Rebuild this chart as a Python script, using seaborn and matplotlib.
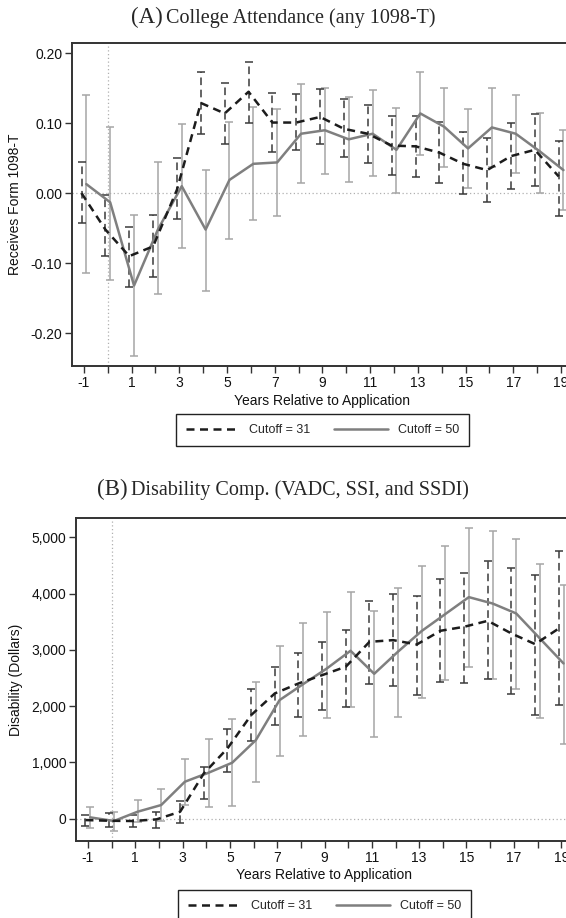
import numpy as np
import pandas as pd
import matplotlib
matplotlib.use("Agg")
import matplotlib.pyplot as plt
import seaborn as sns
from matplotlib.lines import Line2D
from matplotlib.ticker import FuncFormatter

# ---------------- data ----------------
years = list(range(-1, 20))

# Panel A: College attendance (any 1098-T)
a31_est = [0.000, -0.052, -0.090, -0.076, 0.005, 0.129, 0.114, 0.145, 0.101, 0.101, 0.109,
           0.092, 0.085, 0.068, 0.067, 0.058, 0.042, 0.033, 0.053, 0.062, 0.024]
a31_hi = [0.045, -0.003, -0.048, -0.031, 0.051, 0.173, 0.157, 0.188, 0.143, 0.142, 0.149,
          0.134, 0.126, 0.111, 0.111, 0.102, 0.088, 0.079, 0.100, 0.113, 0.075]
a31_lo = [-0.042, -0.090, -0.134, -0.120, -0.037, 0.085, 0.070, 0.101, 0.059, 0.062, 0.070,
          0.052, 0.043, 0.026, 0.023, 0.014, -0.001, -0.012, 0.006, 0.011, -0.032]
a50_est = [0.013, -0.013, -0.132, -0.052, 0.010, -0.052, 0.019, 0.042, 0.044, 0.085, 0.090,
           0.077, 0.085, 0.062, 0.114, 0.095, 0.064, 0.094, 0.085, 0.060, 0.033]
a50_hi = [0.140, 0.095, -0.031, 0.044, 0.099, 0.033, 0.102, 0.123, 0.120, 0.156, 0.151,
          0.138, 0.148, 0.122, 0.173, 0.151, 0.120, 0.151, 0.141, 0.114, 0.090]
a50_lo = [-0.114, -0.124, -0.233, -0.144, -0.079, -0.140, -0.066, -0.039, -0.032, 0.014, 0.028,
          0.016, 0.024, 0.000, 0.055, 0.038, 0.007, 0.037, 0.029, 0.001, -0.024]

# Panel B: Disability compensation (dollars)
b31_est = [-24, -36, -41, -12, 124, 805, 1249, 1841, 2226, 2403, 2551,
           2700, 3143, 3173, 3096, 3339, 3410, 3516, 3291, 3102, 3380]
b31_hi = [65, 95, 65, 124, 320, 912, 1587, 2297, 2700, 2936, 3132,
          3351, 3872, 3984, 3955, 4262, 4369, 4576, 4446, 4339, 4760]
b31_lo = [-130, -142, -142, -160, -71, 343, 823, 1385, 1663, 1800, 1930,
          1989, 2386, 2362, 2190, 2427, 2404, 2480, 2208, 1841, 2019]
b50_est = [24, -41, 124, 243, 657, 817, 995, 1397, 2107, 2392, 2670,
           2984, 2575, 2966, 3333, 3635, 3937, 3824, 3647, 3203, 2759]
b50_hi = [213, 112, 332, 527, 1060, 1409, 1770, 2433, 3067, 3469, 3670,
          4020, 3682, 4108, 4499, 4837, 5174, 5115, 4973, 4529, 4156]
b50_lo = [-172, -219, -53, -41, 243, 213, 231, 645, 1113, 1468, 1782,
          1977, 1456, 1800, 2149, 2463, 2688, 2480, 2309, 1782, 1326]

series_labels = ["Cutoff = 31", "Cutoff = 50"]
titles = [("(A)", "College Attendance (any 1098-T)"),
          ("(B)", "Disability Comp. (VADC, SSI, and SSDI)")]
ylabels = ["Receives Form 1098-T", "Disability (Dollars)"]
xlabel = "Years Relative to Application"
x_ticklabels = [str(v) if v % 2 == 1 or v == -1 else "" for v in years]

# ---------------- style ----------------
sns.set_theme(style="white")
plt.rcParams["font.family"] = ["Liberation Sans", "DejaVu Sans"]

W, H = 566, 918
fig = plt.figure(figsize=(W / 100, H / 100), dpi=100)

C31_LINE = "#1c1c1c"
C31_BAR = "#3a3a3a"
C50_LINE = "#7f7f7f"
C50_BAR = "#a6a6a6"
SPINE = "#333333"


def px_axes(left, top, right, bottom):
    return fig.add_axes([left / W, 1 - bottom / H, (right - left) / W, (bottom - top) / H])


def draw_panel(ax, e31, lo31, hi31, e50, lo50, hi50, ylim, yticks, yfmt, ylabel, title, title_y,
               leg_y, xlabelpad):
    yrs = np.array(years, dtype=float)
    x31 = yrs - 0.1
    x50 = yrs + 0.1
    # reference lines
    ax.axhline(0, color="#b0b0b0", lw=0.9, ls=(0, (1, 2)), zorder=1)
    ax.axvline(0, color="#b0b0b0", lw=0.9, ls=(0, (1, 2)), zorder=1)

    # error bars
    e50a, lo50a, hi50a = map(np.array, (e50, lo50, hi50))
    ax.errorbar(x50, e50a, yerr=[e50a - lo50a, hi50a - e50a], fmt="none",
                ecolor=C50_BAR, elinewidth=1.1, capsize=2.6, capthick=1.1, zorder=2)
    e31a, lo31a, hi31a = map(np.array, (e31, lo31, hi31))
    eb31 = ax.errorbar(x31, e31a, yerr=[e31a - lo31a, hi31a - e31a], fmt="none",
                       ecolor=C31_BAR, elinewidth=1.1, capsize=2.6, capthick=1.1, zorder=3)
    for lc in eb31[2]:
        lc.set_linestyle((0, (5, 3)))

    d31 = pd.DataFrame({"x": x31, "y": e31a})
    d50 = pd.DataFrame({"x": x50, "y": e50a})
    sns.lineplot(data=d50, x="x", y="y", ax=ax, color=C50_LINE, lw=1.8, zorder=4)
    sns.lineplot(data=d31, x="x", y="y", ax=ax, color=C31_LINE, lw=1.8, zorder=5)
    ax.lines[-1].set_dashes((3.2, 2.2))

    ax.set_xlim(-1.5, 19.5)
    ax.set_ylim(*ylim)
    ax.set_xticks(years)
    ax.set_xticklabels(x_ticklabels)
    ax.set_yticks(yticks)
    ax.yaxis.set_major_formatter(FuncFormatter(yfmt))
    ax.tick_params(axis="both", direction="out", length=5, width=1, color=SPINE,
                   labelsize=10, labelcolor="#111111", pad=2,
                   bottom=True, left=True, top=False, right=False)
    for s in ["left", "bottom", "top"]:
        ax.spines[s].set_color(SPINE)
        ax.spines[s].set_linewidth(1.4)
    ax.spines["right"].set_visible(False)
    ax.set_xlabel(xlabel, fontsize=10, labelpad=xlabelpad, color="#111111")
    ax.set_ylabel(ylabel, fontsize=10, labelpad=6, color="#111111")
    ax.grid(False)

    handles = [Line2D([], [], color=C31_LINE, lw=1.8, dashes=(3.2, 2.2)),
               Line2D([], [], color=C50_LINE, lw=1.8)]
    leg = ax.legend(handles, series_labels, ncol=2, loc="upper center",
                    bbox_to_anchor=(0.5, leg_y), borderaxespad=0, frameon=True, fancybox=False,
                    edgecolor="#222222", fontsize=9, handlelength=4.3,
                    columnspacing=1.9, handletextpad=0.8, borderpad=0.8,
                    framealpha=1)
    leg.get_frame().set_linewidth(1.0)

    # title: larger letter prefix + serif text
    fig.canvas.draw()
    r = fig.canvas.get_renderer()
    t1 = fig.text(0, 0, title[0], fontsize=16.5, family=["Liberation Serif", "DejaVu Serif"])
    t2 = fig.text(0, 0, title[1], fontsize=14.5, family=["Liberation Serif", "DejaVu Serif"])
    w1 = t1.get_window_extent(r).width
    w2 = t2.get_window_extent(r).width
    gap = 3
    total = w1 + gap + w2
    x0 = (W / 2 - total / 2) / W
    t1.set_position((x0, title_y))
    t2.set_position((x0 + (w1 + gap) / W, title_y))
    t1.set_va("baseline"); t2.set_va("baseline")


axA = px_axes(72, 43, 573, 366)
draw_panel(axA, a31_est, a31_lo, a31_hi, a50_est, a50_lo, a50_hi,
           (-0.247, 0.2147), [-0.20, -0.10, 0.00, 0.10, 0.20],
           lambda v, p: f"{v:.2f}".replace("\u2212", "-"),
           ylabels[0], titles[0], 1 - 23 / H, -(414 - 366) / 323, 3)

axB = px_axes(76, 518, 573, 841)
draw_panel(axB, b31_est, b31_lo, b31_hi, b50_est, b50_lo, b50_hi,
           (-396, 5343), [0, 1000, 2000, 3000, 4000, 5000],
           lambda v, p: f"{int(round(v)):,}",
           ylabels[1], titles[1], 1 - 495 / H, -(890 - 841) / 323, 2)

fig.savefig("out.png", dpi=100)
